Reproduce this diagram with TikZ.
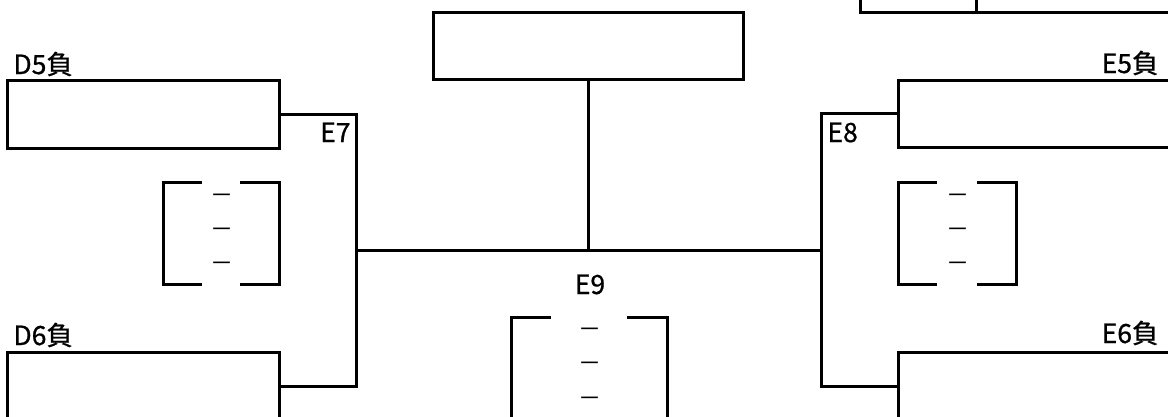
\documentclass[tikz,border=0pt]{standalone}
\usepackage{fontspec}
\setmainfont{Noto Sans CJK JP}[FakeBold=0.8]
\newfontfamily\dashfont{Noto Sans CJK JP}
\begin{document}
\begin{tikzpicture}[x=1pt,y=-1pt,
  line width=3pt,
  box/.style={draw,rectangle,inner sep=0pt,outer sep=0pt},
  brk/.style={rectangle,inner sep=0pt,outer sep=0pt},
  lbl/.style={inner sep=0pt,font=\fontsize{26.5}{30}\selectfont},
  dsh/.style={inner sep=0pt,font=\dashfont\fontsize{23}{26}\selectfont}]
\useasboundingbox (0,0) rectangle (1168,416);
\clip (0,0) rectangle (1168,416);
% boxes
\node[box,minimum width=272pt,minimum height=68pt] (D5) at (143,114) {};
\node[box,minimum width=272pt,minimum height=68pt] (D6) at (143,386) {};
\node[box,minimum width=310pt,minimum height=67pt] (T) at (588,45.5) {};
\node[box,minimum width=316pt,minimum height=68pt] (TR) at (1018,-22) {};
\coordinate (TRd) at (976,12);
\draw (TRd) -- (TRd |- TR.north);
\node[box,minimum width=276pt,minimum height=67pt] (E5) at (1036,113.5) {};
\node[box,minimum width=276pt,minimum height=68pt] (E6) at (1036,386) {};
% junctions
\coordinate (J7) at (356,250);
\coordinate (J8) at (821,250);
\draw (D5.east) -| (J7);
\draw (D6.east) -| (J7);
\draw (E5.west) -| (J8);
\draw (E6.west) -| (J8);
\draw (J7) -- (J8);
\draw (T.south) -- (T.south |- J7);
% labels
\node[lbl,anchor=base west] (lD5) at (12,74) {D5負};
\node[lbl,anchor=base west] (lD6) at (12,345) {D6負};
\node[lbl,anchor=base east] (lE5) at (1160,73) {E5負};
\node[lbl,anchor=base east] (lE6) at (1160,343) {E6負};
\node[lbl,anchor=base east] (lE7) at (352,142) {E7};
\node[lbl,anchor=base west] (lE8) at (826,142) {E8};
\node[lbl,anchor=base] (lE9) at (590,294) {E9};
% brackets
\node[brk,minimum width=116pt,minimum height=102pt] (B1) at (221,233) {};
\node[brk,minimum width=118pt,minimum height=102pt] (B2) at (957,233) {};
\node[brk,minimum width=156pt,minimum height=102pt] (B3) at (589,368) {};
\foreach \b/\s in {B1/39pt,B2/39pt,B3/40pt}{
  \draw ([xshift=\s]\b.north west) -- (\b.north west) -- (\b.south west) -- ([xshift=\s]\b.south west);
  \draw ([xshift=-\s]\b.north east) -- (\b.north east) -- (\b.south east) -- ([xshift=-\s]\b.south east);
}
\node[dsh] (d11) at (221.5,199) {－};
\node[dsh] (d12) at (221.5,233) {－};
\node[dsh] (d13) at (221.5,267) {－};
\node[dsh] (d21) at (958,199) {－};
\node[dsh] (d22) at (958,233) {－};
\node[dsh] (d23) at (958,267) {－};
\node[dsh] (d31) at (590,333) {－};
\node[dsh] (d32) at (590,367) {－};
\node[dsh] (d33) at (590,402) {－};
\end{tikzpicture}
\end{document}
